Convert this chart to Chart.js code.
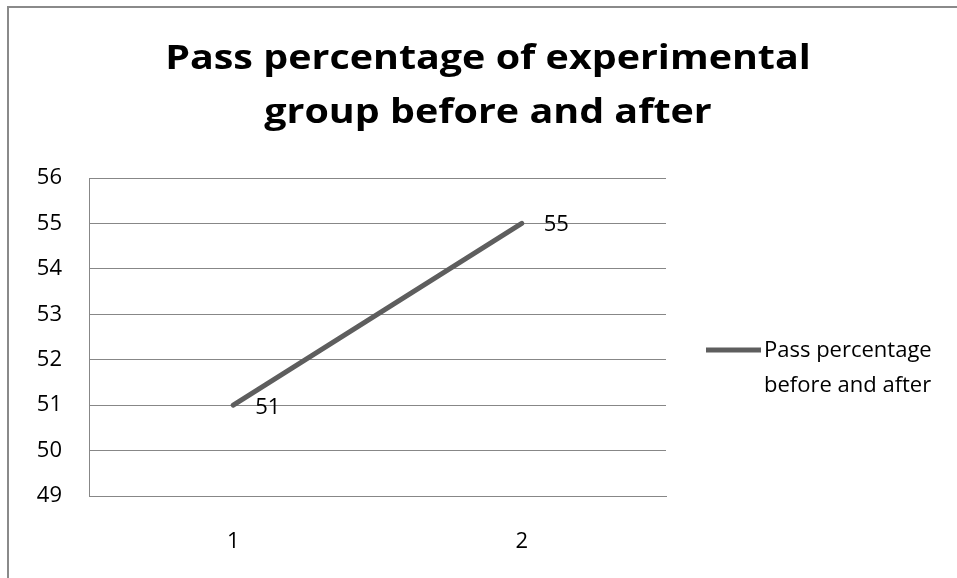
<!DOCTYPE html>
<html>
<head>
<meta charset="utf-8">
<script src="https://cdn.jsdelivr.net/npm/chart.js@4/dist/chart.umd.min.js"></script>
<style>
  html, body { margin: 0; padding: 0; background: #ffffff; }
  #wrap { width: 957px; height: 578px; }
</style>
</head>
<body>
<div id="wrap"><canvas id="c" width="957" height="578"></canvas></div>
<script>
// Chart data
const categories = ['1', '2'];
const passValues = [51, 55];
const seriesLabel = ['Pass percentage', 'before and after'];
const titleLines = ['Pass percentage of experimental', 'group before and after'];
const yMin = 49;
const yMax = 56;

const FONT = '"Open Sans", Lato, sans-serif';
const GRID = '#878787';
const LINE = '#5e5e5e';

// draw text slightly widened around its anchor
function wideText(ctx, text, x, y, sx) {
  ctx.save();
  ctx.translate(x, y);
  ctx.scale(sx, 1);
  ctx.fillText(text, 0, 0);
  ctx.restore();
}

// Outer frame, title, value labels and legend
const decorations = {
  id: 'decorations',
  afterDraw(chart) {
    const ctx = chart.ctx;
    ctx.save();
    // frame
    ctx.strokeStyle = '#8a8a8a';
    ctx.lineWidth = 2;
    ctx.beginPath();
    ctx.moveTo(8, 600);
    ctx.lineTo(8, 7);
    ctx.lineTo(980, 7);
    ctx.stroke();

    // title
    ctx.fillStyle = '#000000';
    ctx.font = 'bold 34px ' + FONT;
    ctx.textAlign = 'center';
    ctx.textBaseline = 'alphabetic';
    wideText(ctx, titleLines[0], 488, 69, 1.16);
    wideText(ctx, titleLines[1], 488, 123, 1.16);

    // value labels
    const meta = chart.getDatasetMeta(0);
    ctx.font = '22px ' + FONT;
    ctx.fillStyle = '#000000';
    ctx.textAlign = 'left';
    ctx.textBaseline = 'middle';
    meta.data.forEach((pt, i) => {
      const dy = i === 0 ? 3 : 1;
      ctx.fillText(String(passValues[i]), pt.x + 22, pt.y + dy);
    });

    // legend
    ctx.strokeStyle = LINE;
    ctx.lineWidth = 5;
    ctx.beginPath();
    ctx.moveTo(706, 350);
    ctx.lineTo(761, 350);
    ctx.stroke();
    ctx.fillStyle = '#000000';
    ctx.fillText(seriesLabel[0], 764, 351);
    ctx.fillText(seriesLabel[1], 764, 386);
    ctx.restore();
  }
};

new Chart(document.getElementById('c'), {
  type: 'line',
  data: {
    labels: categories,
    datasets: [{
      label: seriesLabel.join(' '),
      data: passValues,
      borderColor: LINE,
      borderWidth: 5,
      pointRadius: 0,
      tension: 0,
      borderCapStyle: 'round'
    }]
  },
  options: {
    responsive: false,
    animation: false,
    layout: { padding: { left: 0, right: 291, top: 178, bottom: 0 } },
    plugins: {
      legend: { display: false },
      title: { display: false },
      tooltip: { enabled: false }
    },
    scales: {
      x: {
        offset: true,
        grid: { display: false, drawTicks: false },
        border: { color: GRID, width: 1 },
        ticks: { color: '#000000', font: { family: FONT, size: 22 }, padding: 33 },
        afterFit(scale) { scale.height = 82; }
      },
      y: {
        min: yMin,
        max: yMax,
        grid: { color: GRID, drawTicks: false },
        border: { color: GRID, width: 1 },
        ticks: { stepSize: 1, color: '#000000', font: { family: FONT, size: 22 }, padding: 27 },
        afterFit(scale) { scale.width = 89; }
      }
    }
  },
  plugins: [decorations]
});
</script>
</body>
</html>
